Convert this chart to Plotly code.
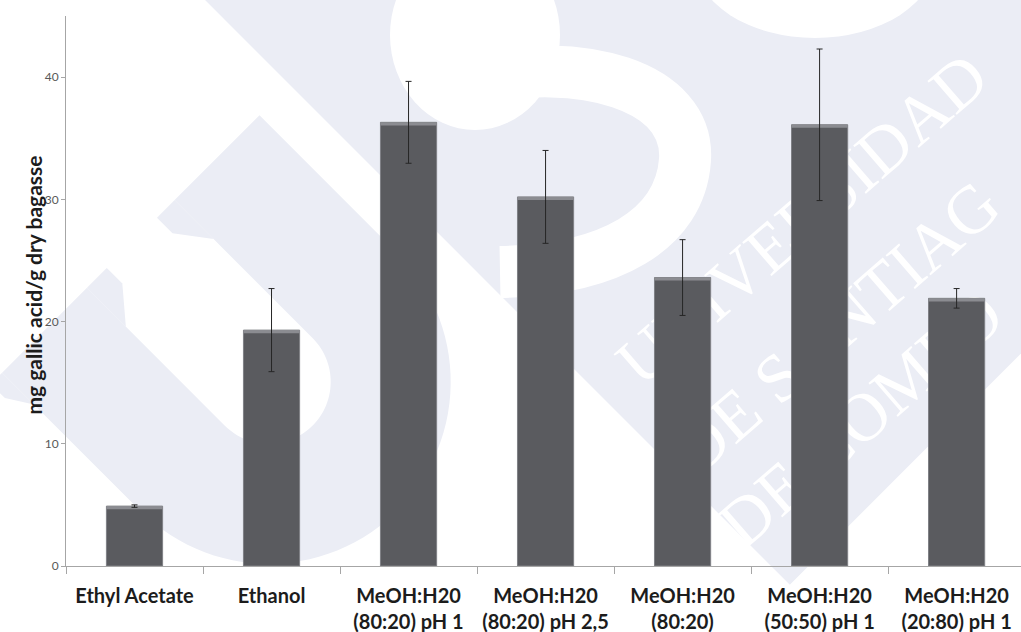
import math
import numpy as np
import plotly.graph_objects as go

W, H = 1021, 632

# ---- data -------------------------------------------------------------
categories = [
    "Ethyl Acetate",
    "Ethanol",
    "MeOH:H20<br>(80:20) pH 1",
    "MeOH:H20<br>(80:20) pH 2,5",
    "MeOH:H20<br>(80:20)",
    "MeOH:H20<br>(50:50) pH 1",
    "MeOH:H20<br>(20:80) pH 1",
]
gallic_acid = [4.9, 19.3, 36.3, 30.2, 23.6, 36.1, 21.9]   # mg gallic acid / g dry bagasse
std_dev = [0.1, 3.4, 3.35, 3.8, 3.1, 6.2, 0.8]
y_tick_values = [0, 10, 20, 30, 40]
y_title = "mg gallic acid/g dry bagasse"
seal_lines = ["UNIVERSIDAD", "DE SANTIAG", "DE COMPO"]

# ---- page geometry (pixels) ------------------------------------------
PLOT_LEFT = 66
AXIS_BOTTOM, AXIS_TOP = 566, 16
Y_MAX = 45
X_RANGE = [-0.5, 6.47]
BAR_WIDTH = 0.41

WM_BLUE = "#ebedf5"
R2 = math.sqrt(2)


def to_paper(x, y):
    return x / W, 1 - y / H


def from_uv(u, v):
    # seal frame rotated by 45 degrees: u runs down-right, v runs up-right
    return (u + v) / R2, (u - v) / R2


def poly_path(points):
    parts = []
    for i, (x, y) in enumerate(points):
        px, py = to_paper(x, y)
        parts.append(("M" if i == 0 else "L") + f"{px:.5f},{py:.5f}")
    return " ".join(parts) + " Z"


def bezier_path(start, segments):
    sx, sy = to_paper(*start)
    parts = [f"M{sx:.5f},{sy:.5f}"]
    for seg in segments:
        pts = [to_paper(*p) for p in seg]
        parts.append("C" + " ".join(f"{a:.5f},{b:.5f}" for a, b in pts))
    return " ".join(parts)


shapes = []

# diamond block behind the "S"
diamond = [from_uv(u, v) for u, v in [(140, 145), (972, 145), (972, 1100), (140, 1100)]]
shapes.append(dict(type="path", xref="paper", yref="paper", layer="below",
                   path=poly_path(diamond), fillcolor=WM_BLUE, line=dict(width=0)))

# the "U"
u_top, u_c, v_c = 265, 460, -80
r_out, r_in = 182, 62
theta = np.linspace(0, np.pi, 60)
u_pts = [(u_top, v_c - r_out), (u_c, v_c - r_out)]
u_pts += [(u_c + r_out * math.sin(t), v_c - r_out * math.cos(t)) for t in theta]
u_pts += [(u_top, v_c + r_out), (u_top, v_c + r_in)]
u_pts += [(u_c + r_in * math.sin(t), v_c - r_in * math.cos(t)) for t in theta[::-1]]
u_pts += [(u_top, v_c - r_in)]
shapes.append(dict(type="path", xref="paper", yref="paper", layer="below",
                   path=poly_path([from_uv(u, v) for u, v in u_pts]),
                   fillcolor=WM_BLUE, line=dict(width=0)))

# serifs at the top of the "U" arms
serifs = [
    [(u_top, v_c + r_in), (u_top, v_c + r_in - 25), (u_top + 22, v_c + r_in - 25), (u_top + 55, v_c + r_in)],
    [(u_top, v_c - r_in), (u_top, v_c - r_in + 28), (u_top + 22, v_c - r_in + 28), (u_top + 55, v_c - r_in)],
    [(u_top, v_c - r_out), (u_top, v_c - r_out - 16), (u_top + 20, v_c - r_out - 16), (u_top + 45, v_c - r_out)],
]
for s in serifs:
    shapes.append(dict(type="path", xref="paper", yref="paper", layer="below",
                       path=poly_path([from_uv(u, v) for u, v in s]),
                       fillcolor=WM_BLUE, line=dict(width=0)))

# white strokes of the "S"
for cx, cy, rx, ry in [(475, 35, 85, 95), (815, -40, 120, 78)]:
    x0, y1 = to_paper(cx - rx, cy - ry)
    x1, y0 = to_paper(cx + rx, cy + ry)
    shapes.append(dict(type="circle", xref="paper", yref="paper", layer="below",
                       x0=x0, x1=x1, y0=y0, y1=y1, fillcolor="white", line=dict(width=0)))
shapes.append(dict(type="path", xref="paper", yref="paper", layer="below",
                   path=bezier_path((470, 80), [[(580, 55), (690, 85), (685, 160)],
                                                [(680, 230), (610, 270), (500, 272)]]),
                   line=dict(color="white", width=52)))

# lettering of the seal, laid along a 41 degree baseline
SEAL_FONT = 68
ANGLE = 41
serif_em = {"U": .722, "N": .722, "I": .333, "V": .722, "E": .611, "R": .667, "S": .556,
            "D": .722, "A": .722, " ": .25, "T": .611, "G": .722, "O": .722, "C": .667,
            "M": .889, "P": .556, "L": .611}
d = (math.cos(math.radians(ANGLE)), -math.sin(math.radians(ANGLE)))
starts = [(622, 366), (678, 455), (724, 528)]
for text, (sx, sy) in zip(seal_lines, starts):
    half = SEAL_FONT * sum(serif_em[c] for c in text) / 2
    cx, cy = sx + d[0] * half, sy + d[1] * half
    x0, y0 = to_paper(cx - 30 * d[0], cy - 30 * d[1])
    x1, y1 = to_paper(cx + 30 * d[0], cy + 30 * d[1])
    shapes.append(dict(type="line", xref="paper", yref="paper", layer="below",
                       x0=x0, y0=y0, x1=x1, y1=y1,
                       line=dict(color="rgba(0,0,0,0)", width=1),
                       label=dict(text=text, textangle=-ANGLE, textposition="middle",
                                  xanchor="center", yanchor="middle",
                                  font=dict(family="Liberation Serif", size=SEAL_FONT, color="white"))))

# ---- traces ----------------------------------------------------------
fig = go.Figure()
fig.add_trace(go.Bar(
    x=categories, y=gallic_acid, width=BAR_WIDTH,
    marker=dict(color="#5a5b5f", line=dict(color="#7f8085", width=1)),
    hoverinfo="skip",
))
rim = 0.25
fig.add_trace(go.Bar(
    x=categories, y=[rim] * len(gallic_acid), base=[v - rim for v in gallic_acid],
    width=BAR_WIDTH, marker=dict(color="#8b8c91", line=dict(width=0)),
    hoverinfo="skip",
))
fig.add_trace(go.Scatter(
    x=categories, y=gallic_acid, mode="markers",
    marker=dict(size=2, color="rgba(0,0,0,0)"),
    error_y=dict(type="data", array=std_dev, color="#262626", thickness=1, width=3),
    hoverinfo="skip",
))

axis_grey = "#a6a6a6"
fig.update_layout(
    width=W, height=H, autosize=False,
    margin=dict(l=0, r=0, t=0, b=0),
    paper_bgcolor="white", plot_bgcolor="rgba(0,0,0,0)",
    showlegend=False, barmode="overlay",
    shapes=shapes,
    xaxis=dict(
        domain=[PLOT_LEFT / W, 1], range=X_RANGE, type="category",
        showline=True, linecolor=axis_grey, linewidth=1,
        ticks="outside", tickson="boundaries", ticklen=7, tickcolor=axis_grey,
        ticklabelstandoff=12, tickangle=0,
        tickfont=dict(family="Lato", size=20, color="#1c1c1c", weight="bold"),
        showgrid=False, zeroline=False, automargin=False,
    ),
    yaxis=dict(
        domain=[1 - AXIS_BOTTOM / H, 1 - AXIS_TOP / H], range=[0, Y_MAX],
        tickvals=y_tick_values, showline=True, linecolor=axis_grey, linewidth=1,
        ticks="outside", ticklen=4, tickcolor=axis_grey,
        tickfont=dict(family="Lato", size=12, color="#595959"),
        showgrid=False, zeroline=False, automargin=False,
    ),
    annotations=[dict(
        text=y_title, xref="paper", yref="paper",
        x=18 / W, y=1 - 285 / H, textangle=-90, showarrow=False,
        font=dict(family="Lato", size=21, color="#1c1c1c", weight="bold"),
    )],
)

fig.write_html("out.html")
